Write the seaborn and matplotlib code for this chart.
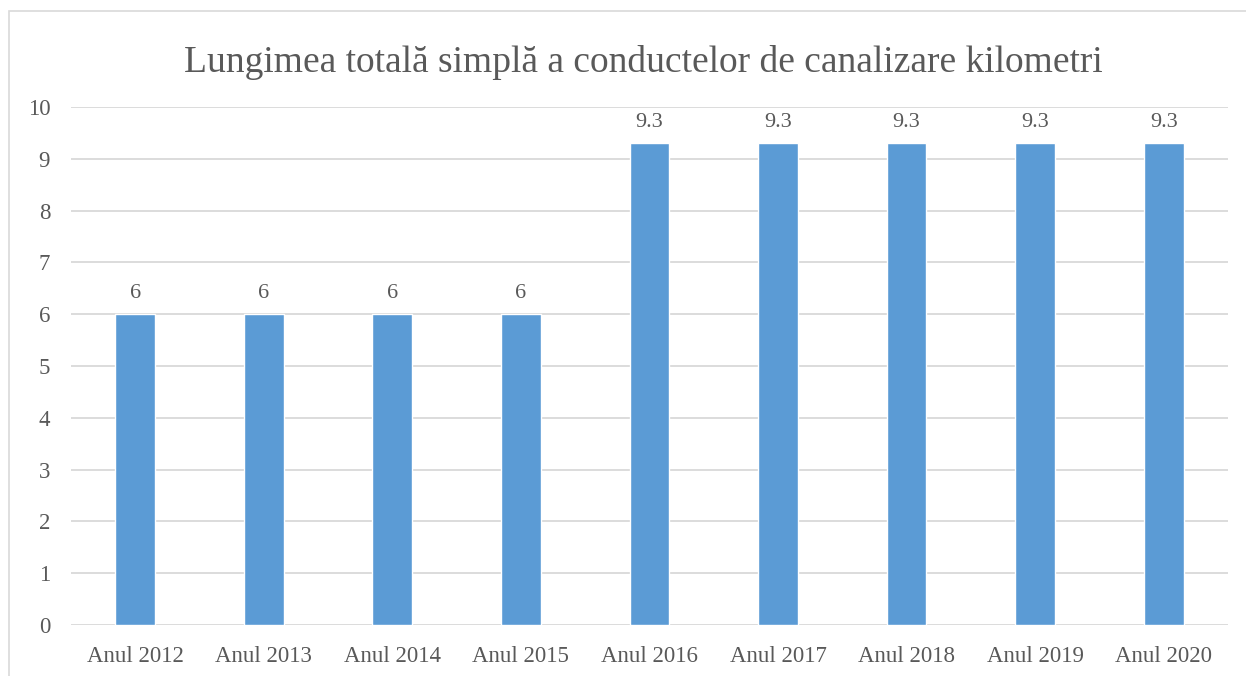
import matplotlib
matplotlib.use("Agg")
import matplotlib.pyplot as plt
import seaborn as sns
import pandas as pd
from matplotlib.patches import Rectangle

# data
years = ["Anul 2012", "Anul 2013", "Anul 2014", "Anul 2015", "Anul 2016",
         "Anul 2017", "Anul 2018", "Anul 2019", "Anul 2020"]
lengths = [6, 6, 6, 6, 9.3, 9.3, 9.3, 9.3, 9.3]
value_labels = ["6", "6", "6", "6", "9.3", "9.3", "9.3", "9.3", "9.3"]

df = pd.DataFrame({"an": years, "km": lengths})

sns.set_style("white")
plt.rcParams['font.family'] = ['Liberation Serif', 'DejaVu Serif']
txt = "#595959"

fig = plt.figure(figsize=(12.46, 6.76), dpi=100)
ax = fig.add_axes([0.057, 0.0754, 0.9285, 0.7663])

sns.barplot(data=df, x="an", y="km", color="#5b9bd5", width=0.31,
            saturation=1, ax=ax)

ax.set_ylim(0, 10)
ax.set_yticks(range(0, 11))
ax.yaxis.grid(True, color="#d9d9d9", linewidth=1.3)
ax.set_axisbelow(True)
for s in ax.spines.values():
    s.set_visible(False)
ax.tick_params(axis="both", length=0, labelsize=16.5, colors=txt)
ax.tick_params(axis="x", pad=15)
ax.tick_params(axis="y", pad=15)
ax.set_xlabel("")
ax.set_ylabel("")

for i, (v, lab) in enumerate(zip(lengths, value_labels)):
    ax.annotate(lab, (i, v), xytext=(0, 8), textcoords="offset points",
                ha="center", va="bottom", fontsize=16, color=txt)

# titlul e usor deplasat spre dreapta, ca in original
fig.text(0.516, 0.908, "Lungimea totală simplă a conductelor de canalizare kilometri",
         ha="center", va="center", fontsize=27, color=txt)

fig.patches.append(Rectangle((9 / 1246, -0.1), 1.2, 1.1 - 11 / 676,
                             transform=fig.transFigure, fill=False,
                             edgecolor="#d9d9d9", linewidth=1.2))

fig.savefig("out.png", dpi=100)
